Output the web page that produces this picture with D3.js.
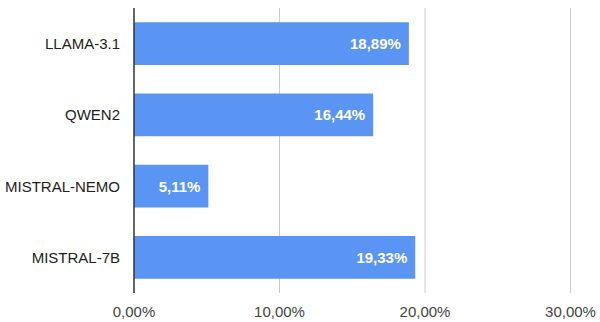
<!DOCTYPE html>
<html lang="en">
<head>
<meta charset="UTF-8"/>
<title>Bar chart</title>
<style>
  body { margin: 0; background: #fff; }
  text { font-family: "Liberation Sans", Arial, sans-serif; }
</style>
</head>
<body>
<svg id="chart" width="600" height="322"></svg>
<script src="https://cdn.jsdelivr.net/npm/d3@7"></script>
<script>
// data
var models = ["LLAMA-3.1", "QWEN2", "MISTRAL-NEMO", "MISTRAL-7B"];
var scores = [18.89, 16.44, 5.11, 19.33];
var ticks  = [0, 10, 20, 30];

var margin = {top: 8, right: 29, bottom: 29, left: 134},
    width  = 600 - margin.left - margin.right,
    height = 322 - margin.top - margin.bottom;

var svg = d3.select("#chart").append("g")
    .attr("transform", "translate(" + margin.left + "," + margin.top + ")");

var x = d3.scaleLinear().domain([0, 30]).range([0, 436.5]);
var y = d3.scaleBand().domain(models).range([0, height])
    .paddingInner(0.4).paddingOuter(0.2);

var fmt = function(v) { return d3.format(".2f")(v).replace(".", ",") + "%"; };

// gridlines
svg.selectAll("line.grid")
    .data(ticks.slice(1))
    .enter().append("line")
    .attr("class", "grid")
    .attr("x1", function(d) { return x(d); })
    .attr("x2", function(d) { return x(d); })
    .attr("y1", 0).attr("y2", height)
    .attr("stroke", "#cccccc").attr("stroke-width", 1);

// bars
var data = models.map(function(m, i) { return {name: m, v: scores[i]}; });
svg.selectAll("rect.bar")
    .data(data)
    .enter().append("rect")
    .attr("class", "bar")
    .attr("x", 0)
    .attr("y", function(d) { return y(d.name); })
    .attr("width", function(d) { return x(d.v); })
    .attr("height", y.bandwidth())
    .attr("fill", "#5b95f4");

// value labels
svg.selectAll("text.val")
    .data(data)
    .enter().append("text")
    .attr("class", "val")
    .attr("x", function(d) { return x(d.v) - 8; })
    .attr("y", function(d) { return y(d.name) + y.bandwidth() / 2; })
    .attr("dy", "0.36em")
    .attr("text-anchor", "end")
    .attr("fill", "#ffffff")
    .attr("font-weight", "bold")
    .attr("font-size", 15)
    .text(function(d) { return fmt(d.v); });

// category labels
svg.selectAll("text.cat")
    .data(models)
    .enter().append("text")
    .attr("class", "cat")
    .attr("x", -14)
    .attr("y", function(d) { return y(d) + y.bandwidth() / 2; })
    .attr("dy", "0.36em")
    .attr("text-anchor", "end")
    .attr("fill", "#222222")
    .attr("font-size", 15)
    .text(function(d) { return d; });

// x tick labels
svg.selectAll("text.tick")
    .data(ticks)
    .enter().append("text")
    .attr("class", "tick")
    .attr("x", function(d) { return x(d); })
    .attr("y", height + 24)
    .attr("text-anchor", "middle")
    .attr("fill", "#444444")
    .attr("font-size", 15)
    .text(function(d) { return fmt(d); });

// zero axis
svg.append("line")
    .attr("x1", 0).attr("x2", 0)
    .attr("y1", 0).attr("y2", height)
    .attr("stroke", "#333333").attr("stroke-width", 1.5);
</script>
</body>
</html>
